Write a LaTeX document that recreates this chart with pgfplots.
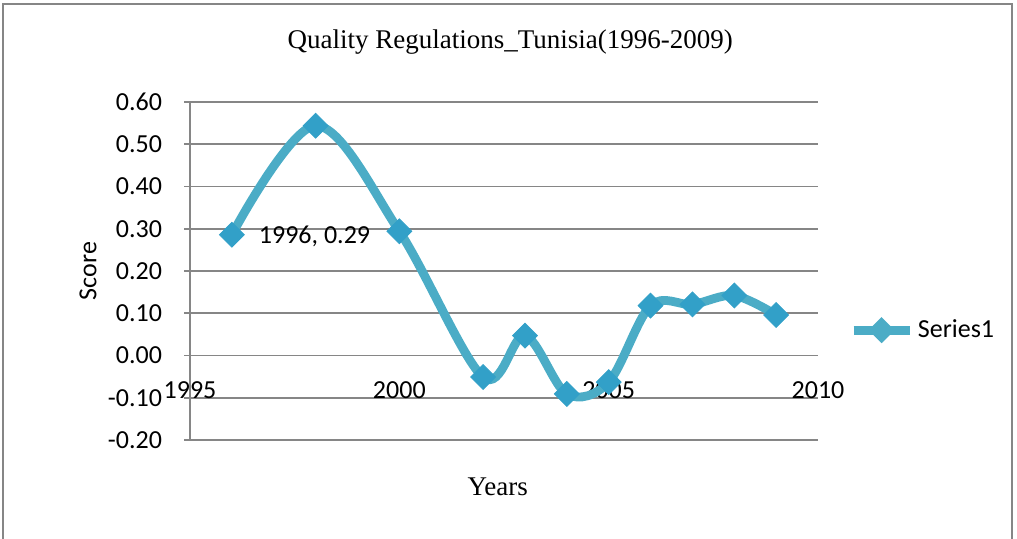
\documentclass[border=0pt]{standalone}
\usepackage{pgfplots}
\pgfplotsset{compat=1.18}
\usepackage{fontspec}
\setmainfont{Carlito}
\newfontfamily\timesf{Liberation Serif}
\definecolor{lineC}{RGB}{75,172,198}
\definecolor{markC}{RGB}{50,160,200}
\definecolor{gridC}{RGB}{134,134,134}
\begin{document}
\begin{tikzpicture}
\useasboundingbox (-95pt,-49.5pt) rectangle (413.5pt,220pt);
\draw[gridC, line width=0.8pt] (-93.5pt,-49.5pt) -- (-93.5pt,218pt) -- (411pt,218pt) -- (411pt,-49.5pt);
\begin{axis}[
  at={(0,0)}, anchor=south west,
  scale only axis, width=314pt, height=169pt,
  clip=false,
  xmin=1995, xmax=2010, ymin=-0.2, ymax=0.6,
  xtick={1995,2000,2005,2010},
  ytick={-0.2,-0.1,0,0.1,0.2,0.3,0.4,0.5,0.6},
  axis x line*=bottom, axis y line*=left,
  axis line style={-, gridC, line width=0.8pt},
  ymajorgrids, major grid style={gridC, line width=0.8pt},
  xtick style={draw=none},
  ytick style={gridC, line width=0.8pt},
  major tick length=3pt,
  tick align=outside,
  /pgf/number format/assume math mode=true,
  yticklabel style={/pgf/number format/fixed, /pgf/number format/fixed zerofill, /pgf/number format/precision=2, xshift=-7.5pt},
  xticklabel style={/pgf/number format/set thousands separator={}, anchor=center, yshift=28pt},
  ticklabel style={font=\fontsize{13}{15}\selectfont},
  scaled y ticks=false,
  legend style={draw=none, fill=none, at={(axis description cs:1.049,0.325)}, anchor=west, font=\fontsize{13}{15}\selectfont, inner sep=0pt},
  legend image code/.code={
    \draw[#1, mark=none] (0pt,0pt) -- (28pt,0pt);
    \draw[#1, mark options={scale=0.55, rotate=45}] plot coordinates {(14pt,0pt)};
  },
]
\addplot[lineC, line width=4.4pt, smooth, tension=0.55, mark=square*,
  mark size=4.4pt, mark options={rotate=45, fill=markC, draw=markC, line width=0.4pt}]
  coordinates {
  (1996,0.286) (1998,0.544) (2000,0.294) (2002,-0.051) (2003,0.047)
  (2004,-0.091) (2005,-0.063) (2006,0.118) (2007,0.121) (2008,0.142) (2009,0.096)
};
\addlegendentry{Series1}
\node[anchor=west, font=\fontsize{13}{15}\selectfont, xshift=10pt, yshift=-1pt] at (axis cs:1996,0.286) {1996, 0.29};
\node[font=\fontsize{13.5}{16}\timesf] at (axis description cs:0.51,1.1775) {Quality Regulations\_Tunisia(1996-2009)};
\node[font=\fontsize{13.5}{16}\timesf] at (axis description cs:0.49,-0.139) {Years};
\node[font=\fontsize{13}{15}\selectfont, rotate=90] at (axis description cs:-0.1624,0.5) {Score};
\end{axis}
\end{tikzpicture}
\end{document}
